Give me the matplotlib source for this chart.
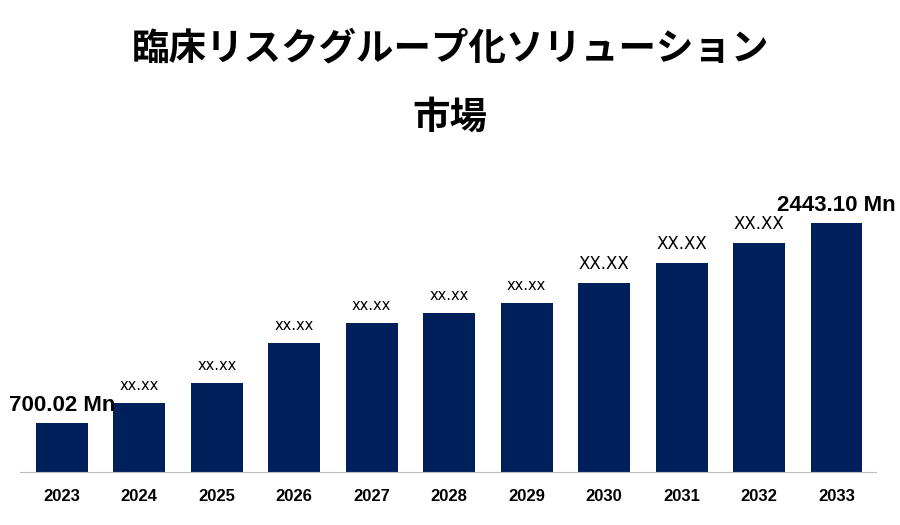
import matplotlib
matplotlib.use("Agg")
import matplotlib.pyplot as plt

years = ["2023","2024","2025","2026","2027","2028","2029","2030","2031","2032","2033"]
values = [700.02, 874.3, 1049.0, 1397.0, 1571.5, 1659.0, 1746.0, 1920.0, 2095.0, 2269.0, 2443.10]
labels = ["700.02 Mn","xx.xx","xx.xx","xx.xx","xx.xx","xx.xx","xx.xx","XX.XX","XX.XX","XX.XX","2443.10 Mn"]
base = 272.9

plt.rcParams["font.family"] = ["Noto Sans CJK JP", "DejaVu Sans"]
fig = plt.figure(figsize=(9, 5.25), dpi=100)
ax = fig.add_axes([20/900, 1-472/525, 856/900, 292/525])
x = list(range(len(years)))
ax.bar(x, [v - base for v in values], bottom=base, width=0.67, color="#00205b")
ax.set_xlim(-0.54, 10.51)
ax.set_ylim(base, base + 292*8.7155)
for i, (v, l) in enumerate(zip(values, labels)):
    if "Mn" in l:
        fs, fw, off = 16, "bold", 7
    elif l.startswith("XX"):
        fs, fw, off = 12, "normal", 10
    else:
        fs, fw, off = 10.5, "normal", 10
    ax.text(i, v + off*8.7155, l, ha="center", va="bottom", fontsize=fs, fontweight=fw,
            family="Liberation Sans" if "Mn" in l else "DejaVu Sans")
for s in ["top","right","left"]:
    ax.spines[s].set_visible(False)
ax.spines["bottom"].set_color("#bbbbbb")
ax.set_yticks([])
ax.set_xticks(x)
ax.set_xticklabels(years, fontsize=12, fontweight="bold", family="Liberation Sans")
ax.tick_params(axis="x", length=0, pad=12)
fig.text(0.5, 1-48/525, "臨床リスクグループ化ソリューション", ha="center", va="center", fontsize=27, fontweight="bold")
fig.text(0.5, 1-117/525, "市場", ha="center", va="center", fontsize=27, fontweight="bold")
fig.savefig("out.png", dpi=100)
